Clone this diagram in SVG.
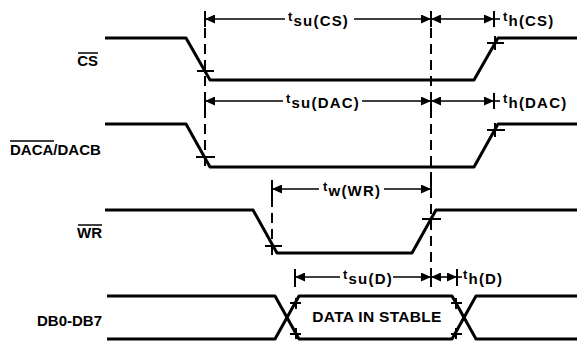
<svg xmlns="http://www.w3.org/2000/svg" width="577" height="346" viewBox="0 0 577 346">
<style>
.wave{fill:none;stroke:#000;stroke-width:3;stroke-linejoin:round}
.tick{stroke:#000;stroke-width:2;fill:none}
.dash{stroke:#000;stroke-width:2;stroke-dasharray:10 6;fill:none}
.arr{stroke:#000;stroke-width:1.6;fill:none}
.sig{font-family:"Liberation Sans",Arial,sans-serif;font-weight:bold;font-size:15px;fill:#000}
.tl{font-family:"Liberation Sans",Arial,sans-serif;font-weight:bold;font-size:15px;letter-spacing:1.2px;fill:#000}
.tt{font-size:13px}
.ov{stroke:#000;stroke-width:1.5}
</style>
<defs>
<marker id="ah" viewBox="0 0 10 9" refX="10" refY="4.5" markerWidth="10" markerHeight="9" markerUnits="userSpaceOnUse" orient="auto-start-reverse"><path d="M0,0 L10,4.5 L0,9 z" fill="#000"/></marker>
</defs>
<rect width="577" height="346" fill="#fff"/>

<g id="sig-cs">
<text class="sig" x="98" y="66" text-anchor="end">CS</text>
<line class="ov" x1="78" y1="53" x2="98" y2="53"/>
<path class="wave" d="M105,38 H186 L210,80 H474 L498,38 H577"/>
<line class="tick" x1="197" y1="71" x2="214" y2="71"/>
<line class="tick" x1="487" y1="43" x2="504" y2="43"/>
<line class="tick" x1="495" y1="36" x2="495" y2="50"/>
</g>

<g id="sig-dac">
<text class="sig" x="10" y="155">DACA/DACB</text>
<line class="ov" x1="10" y1="141" x2="54" y2="141"/>
<path class="wave" d="M105,124 H186 L210,167 H474 L498,124 H577"/>
<line class="tick" x1="196" y1="157" x2="215" y2="157"/>
<line class="tick" x1="487" y1="130" x2="505" y2="130"/>
<line class="tick" x1="495" y1="123" x2="495" y2="137"/>
</g>

<g id="sig-wr">
<text class="sig" x="102" y="238" text-anchor="end">WR</text>
<line class="ov" x1="78" y1="225" x2="102" y2="225"/>
<path class="wave" d="M105,210 H253 L277,253 H412 L436,210 H577"/>
<line class="tick" x1="265" y1="246" x2="282" y2="246"/>
<line class="tick" x1="422" y1="219" x2="441" y2="219"/>
</g>

<g id="sig-db">
<text class="sig" x="102" y="326" text-anchor="end">DB0-DB7</text>
<path class="wave" d="M107,296 H275 L299,339 H452 L476,296 H577"/>
<path class="wave" d="M107,339 H275 L299,296 H452 L476,339 H577"/>
<text class="sig" x="377" y="322" text-anchor="middle" style="font-size:15.5px;letter-spacing:0.3px">DATA IN STABLE</text>
<line class="tick" x1="290" y1="303" x2="301" y2="303"/>
<line class="tick" x1="296" y1="298" x2="296" y2="309"/>
<line class="tick" x1="290" y1="334" x2="301" y2="334"/>
<line class="tick" x1="296" y1="328" x2="296" y2="339"/>
<line class="tick" x1="451" y1="303" x2="462" y2="303"/>
<line class="tick" x1="456" y1="298" x2="456" y2="309"/>
<line class="tick" x1="451" y1="334" x2="462" y2="334"/>
<line class="tick" x1="456" y1="328" x2="456" y2="339"/>
</g>

<g id="connectors">
<line class="dash" x1="205" y1="12" x2="205" y2="166"/>
<line class="dash" x1="431" y1="12" x2="431" y2="287"/>
<line class="dash" x1="272" y1="181" x2="272" y2="257"/>
<line class="tick" x1="205" y1="11" x2="205" y2="27"/>
<line class="tick" x1="431" y1="11" x2="431" y2="27"/>
<line class="tick" x1="494" y1="11" x2="494" y2="27"/>
<line class="tick" x1="205" y1="93" x2="205" y2="109"/>
<line class="tick" x1="431" y1="93" x2="431" y2="109"/>
<line class="tick" x1="494" y1="93" x2="494" y2="109"/>
<line class="tick" x1="272" y1="180" x2="272" y2="197"/>
<line class="tick" x1="431" y1="180" x2="431" y2="197"/>
<line class="tick" x1="295" y1="269" x2="295" y2="287"/>
<line class="tick" x1="431" y1="269" x2="431" y2="287"/>
<line class="tick" x1="457" y1="269" x2="457" y2="286"/>

<line class="arr" x1="285" y1="19" x2="205" y2="19" marker-end="url(#ah)"/>
<line class="arr" x1="354" y1="19" x2="431" y2="19" marker-end="url(#ah)"/>
<text class="tl" x="288" y="26"><tspan class="tt" dy="-5">t</tspan><tspan dy="5">su(CS)</tspan></text>
<line class="arr" x1="431" y1="19" x2="494" y2="19" marker-start="url(#ah)" marker-end="url(#ah)"/>
<line class="arr" x1="494" y1="19" x2="500" y2="19"/>
<text class="tl" x="503" y="26"><tspan class="tt" dy="-5">t</tspan><tspan dy="5">h(CS)</tspan></text>

<line class="arr" x1="283" y1="101" x2="205" y2="101" marker-end="url(#ah)"/>
<line class="arr" x1="362" y1="101" x2="431" y2="101" marker-end="url(#ah)"/>
<text class="tl" x="286" y="108"><tspan class="tt" dy="-5">t</tspan><tspan dy="5">su(DAC)</tspan></text>
<line class="arr" x1="431" y1="101" x2="494" y2="101" marker-start="url(#ah)" marker-end="url(#ah)"/>
<line class="arr" x1="494" y1="101" x2="500" y2="101"/>
<text class="tl" x="503" y="108"><tspan class="tt" dy="-5">t</tspan><tspan dy="5">h(DAC)</tspan></text>

<line class="arr" x1="319" y1="189" x2="272" y2="189" marker-end="url(#ah)"/>
<line class="arr" x1="384" y1="189" x2="431" y2="189" marker-end="url(#ah)"/>
<text class="tl" x="323" y="196"><tspan class="tt" dy="-5">t</tspan><tspan dy="5">w(WR)</tspan></text>

<line class="arr" x1="340" y1="277" x2="295" y2="277" marker-end="url(#ah)"/>
<line class="arr" x1="393" y1="277" x2="431" y2="277" marker-end="url(#ah)"/>
<text class="tl" x="343" y="284"><tspan class="tt" dy="-5">t</tspan><tspan dy="5">su(D)</tspan></text>
<line class="arr" x1="431" y1="277" x2="457" y2="277" marker-start="url(#ah)" marker-end="url(#ah)"/>
<line class="arr" x1="457" y1="277" x2="462" y2="277"/>
<text class="tl" x="463" y="284"><tspan class="tt" dy="-5">t</tspan><tspan dy="5">h(D)</tspan></text>
</g>
</svg>
